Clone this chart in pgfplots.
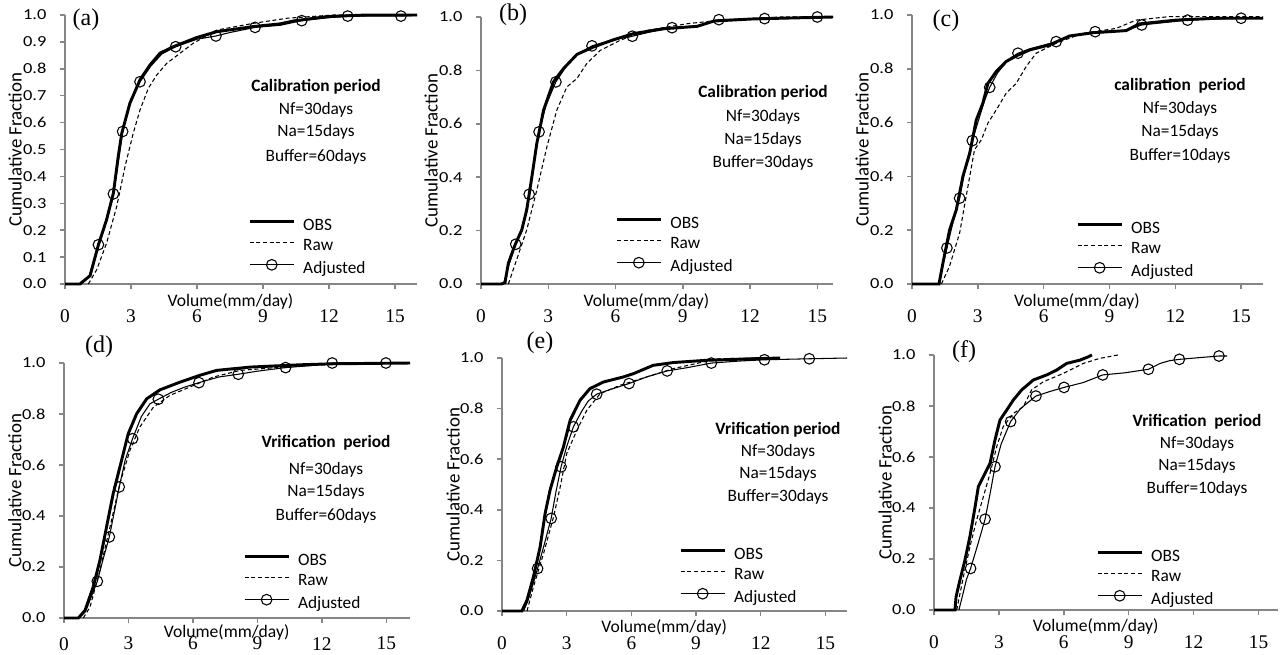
\documentclass[border=0pt]{standalone}
\usepackage{fontspec}
\usepackage{pgfplots}
\pgfplotsset{compat=1.18}
\setmainfont{Carlito}
\newfontfamily\serifnum{Liberation Serif}
\newfontfamily\tickfnt{Carlito}[FakeStretch=1.2]
\newcommand\lab{\fontsize{13}{15}\selectfont}
\newcommand\ylab{\fontsize{14.2}{16}\selectfont}
\newcommand\xlab{\fontsize{13.2}{15}\selectfont}
\newcommand\ytf{\tickfnt\fontsize{11.5}{13}\selectfont}
\newcommand\xtf{\serifnum\fontsize{14.5}{16}\selectfont}
\newcommand\pl{\serifnum\fontsize{18}{20}\selectfont}
\definecolor{axgray}{RGB}{134,134,134}

\pgfplotsset{
  cdf/.style={
    scale only axis, clip=false,
    axis x line=bottom, axis y line=left,
    axis line style={-, draw=axgray, line width=1.1pt},
    tick style={draw=axgray, line width=1.1pt},
    tick align=outside, major tick length=3.75pt,
    xmin=0, xmax=16, ymin=0, ymax=1,
    xtick={0,3,6,9,12,15},
    /pgf/number format/assume math mode=true,
    xticklabel style={font=\xtf, anchor=center, inner sep=0pt, yshift=-20.5pt},
    yticklabel style={font=\ytf, anchor=east, inner sep=0pt, xshift=-10pt,
      /pgf/number format/.cd, fixed, fixed zerofill, precision=1},
    xlabel={Volume(mm/day)}, ylabel={Cumulative Fraction},
    xlabel style={at={(axis description cs:0.47,-0.065)}, anchor=center, font=\xlab},
    ylabel style={at={(axis description cs:-0.142,0.5)}, anchor=center, font=\ylab},
    legend style={draw=none, fill=none, inner sep=0pt, font=\lab, anchor=west,
      nodes={inner sep=0pt, text height=9pt, text depth=3pt},
      row sep=3.4pt, /tikz/every odd column/.append style={column sep=6pt}},
    legend cell align=left,
    legend image code/.code={\draw[mark repeat=2,mark phase=2,##1]
      plot coordinates {(0pt,3.5pt)(16.5pt,3.5pt)(33pt,3.5pt)};},
  },
  obs/.style={black, line width=2.2pt, mark=none},
  raw/.style={black, line width=0.8pt, dash pattern=on 3pt off 2pt, mark=none},
  adj/.style={black, line width=0.8pt, mark=none},
  adjm/.style={black, only marks, mark=o, mark size=4pt, mark options={line width=0.8pt}},
}

\begin{document}
\begin{tikzpicture}
\useasboundingbox (0,0) rectangle (961.5pt,-490.5pt);

% (a)
\begin{axis}[cdf, at={(48.75pt,-213pt)}, anchor=south west, width=264pt, height=201.75pt,
  ytick={0,0.1,...,1.0}, legend style={at={(axis description cs:0.52,0.134)}}]
\addplot[obs, forget plot] coordinates {(0,0)(0.68,0)(1.14,0.031)(1.52,0.146)(1.89,0.239)(2.2,0.338)(2.42,0.474)(2.58,0.56)(2.95,0.672)(3.41,0.759)(3.86,0.814)(4.32,0.858)(4.92,0.882)(5.98,0.916)(6.9,0.938)(8.56,0.957)(9.77,0.967)(10.4,0.978)(11.9,0.994)(13.7,1.0)(16,1.0)};
\addplot[raw, forget plot] coordinates {(1.06,0)(1.44,0.053)(1.89,0.152)(2.35,0.288)(2.73,0.437)(3.1,0.56)(3.41,0.647)(3.79,0.728)(4.17,0.777)(4.62,0.82)(5.23,0.858)(5.83,0.895)(6.9,0.944)(8.56,0.969)(10.1,0.988)(12.2,1.0)(16,1.0)};
\addplot[adj, forget plot] coordinates {(0.7,0)(1.1,0.03)(1.52,0.146)(1.9,0.24)(2.2,0.335)(2.45,0.47)(2.62,0.567)(2.95,0.67)(3.41,0.752)(3.9,0.81)(4.4,0.855)(5.03,0.882)(6.0,0.91)(6.86,0.922)(7.5,0.935)(8.64,0.954)(9.8,0.962)(10.76,0.979)(12.0,0.99)(12.85,0.996)(15.27,0.996)(16,0.998)};
\addplot[adjm, forget plot] coordinates {(1.52,0.146)(2.2,0.335)(2.62,0.567)(3.41,0.752)(5.03,0.882)(6.86,0.922)(8.64,0.954)(10.76,0.979)(12.85,0.996)(15.27,0.996)};
\addlegendimage{obs}\addlegendimage{raw}\addlegendimage{adj, mark=o, mark size=4pt}
\legend{OBS,Raw,Adjusted}
\end{axis}

% (b)
\begin{axis}[cdf, at={(360.75pt,-213pt)}, anchor=south west, width=264pt, height=200.25pt,
  xmax=15.7, ytick={0,0.2,...,1.0}, legend style={at={(axis description cs:0.381,0.143)}}]
\addplot[obs, forget plot] coordinates {(0,0)(0.9,0)(1.07,0.005)(1.22,0.078)(1.52,0.147)(1.82,0.203)(2.04,0.278)(2.27,0.402)(2.49,0.527)(2.79,0.651)(3.23,0.757)(3.68,0.807)(4.28,0.86)(5.02,0.888)(5.92,0.915)(6.81,0.938)(8.15,0.956)(9.64,0.965)(10.39,0.985)(12.18,0.993)(13.67,0.996)(15.7,1.0)};
\addplot[raw, forget plot] coordinates {(1.22,0)(1.59,0.091)(2.04,0.203)(2.49,0.352)(2.94,0.514)(3.38,0.651)(3.83,0.738)(4.28,0.77)(4.72,0.826)(5.32,0.875)(6.21,0.913)(7.41,0.95)(9.2,0.975)(10.69,0.988)(13.37,1.0)(15.7,1.0)};
\addplot[adj, forget plot] coordinates {(1.0,0)(1.2,0.06)(1.55,0.149)(1.85,0.21)(2.15,0.336)(2.35,0.45)(2.59,0.57)(2.9,0.67)(3.34,0.757)(3.8,0.815)(4.3,0.86)(4.95,0.892)(5.9,0.915)(6.75,0.928)(7.6,0.945)(8.52,0.96)(9.7,0.968)(10.61,0.99)(12.65,0.994)(15.0,1.0)(15.7,1.0)};
\addplot[adjm, forget plot] coordinates {(1.55,0.149)(2.15,0.336)(2.59,0.57)(3.34,0.757)(4.95,0.892)(6.75,0.928)(8.52,0.96)(10.61,0.99)(12.65,0.994)(15.0,1.0)};
\addlegendimage{obs}\addlegendimage{raw}\addlegendimage{adj, mark=o, mark size=4pt}
\legend{OBS,Raw,Adjusted}
\end{axis}

% (c)
\begin{axis}[cdf, at={(684pt,-213pt)}, anchor=south west, width=263.25pt, height=201.75pt,
  ytick={0,0.2,...,1.0}, legend style={at={(axis description cs:0.467,0.123)}}]
\addplot[obs, forget plot] coordinates {(0,0)(1.23,0)(1.41,0.078)(1.71,0.2)(2.02,0.276)(2.32,0.4)(2.63,0.486)(2.93,0.61)(3.23,0.672)(3.46,0.746)(3.84,0.79)(4.29,0.827)(4.75,0.848)(5.36,0.87)(6.27,0.889)(7.18,0.922)(8.24,0.934)(9.76,0.942)(10.36,0.967)(12.03,0.981)(13.85,0.988)(16,0.988)};
\addplot[raw, forget plot] coordinates {(1.34,0)(1.71,0.066)(2.17,0.189)(2.55,0.363)(2.85,0.499)(3.16,0.536)(3.46,0.598)(3.84,0.647)(4.29,0.709)(4.75,0.746)(5.2,0.808)(5.66,0.858)(6.57,0.895)(7.78,0.932)(9.3,0.95)(10.21,0.981)(11.73,0.994)(16,0.994)};
\addplot[adj, forget plot] coordinates {(1.23,0)(1.4,0.07)(1.59,0.134)(1.9,0.24)(2.17,0.319)(2.45,0.44)(2.75,0.533)(3.0,0.6)(3.3,0.68)(3.54,0.731)(3.9,0.785)(4.4,0.835)(4.83,0.858)(5.4,0.875)(6.0,0.888)(6.57,0.901)(7.2,0.922)(8.35,0.938)(9.8,0.943)(10.47,0.963)(12.56,0.981)(15.0,0.988)(16,0.988)};
\addplot[adjm, forget plot] coordinates {(1.59,0.134)(2.17,0.319)(2.75,0.533)(3.54,0.731)(4.83,0.858)(6.57,0.901)(8.35,0.938)(10.47,0.963)(12.56,0.981)(15.0,0.988)};
\addlegendimage{obs}\addlegendimage{raw}\addlegendimage{adj, mark=o, mark size=4pt}
\legend{OBS,Raw,Adjusted}
\end{axis}

% (d)
\begin{axis}[cdf, at={(48pt,-463.5pt)}, anchor=south west, width=259.5pt, height=191.25pt,
  xmax=16.1, ytick={0,0.2,...,1.0}, xticklabel style={yshift=5pt},
  xlabel style={yshift=1.5pt},
  legend style={at={(axis description cs:0.517,0.138)}}]
\addplot[obs, forget plot] coordinates {(0,0)(0.67,0)(0.98,0.03)(1.36,0.122)(1.67,0.226)(1.98,0.357)(2.29,0.488)(2.6,0.592)(2.99,0.723)(3.38,0.801)(3.85,0.86)(4.47,0.895)(5.4,0.925)(6.33,0.952)(7.1,0.971)(8.65,0.984)(10.98,0.993)(12.53,0.997)(16.1,1.0)};
\addplot[raw, forget plot] coordinates {(0.9,0)(1.21,0.043)(1.67,0.187)(2.14,0.357)(2.6,0.527)(3.07,0.658)(3.53,0.749)(4.16,0.827)(4.93,0.873)(5.86,0.906)(6.95,0.945)(8.19,0.971)(10.2,0.984)(12.53,0.995)(16.1,1.0)};
\addplot[adj, forget plot] coordinates {(0.7,0)(1.0,0.025)(1.3,0.09)(1.55,0.144)(1.85,0.24)(2.11,0.318)(2.35,0.42)(2.57,0.514)(2.85,0.62)(3.19,0.703)(3.6,0.79)(4.0,0.84)(4.39,0.858)(5.0,0.885)(5.6,0.905)(6.28,0.923)(7.2,0.945)(8.11,0.956)(9.0,0.968)(10.31,0.982)(11.5,0.99)(12.48,1.0)(14.98,1.0)(16.1,1.0)};
\addplot[adjm, forget plot] coordinates {(1.55,0.144)(2.11,0.318)(2.57,0.514)(3.19,0.703)(4.39,0.858)(6.28,0.923)(8.11,0.956)(10.31,0.982)(12.48,1.0)(14.98,1.0)};
\addlegendimage{obs}\addlegendimage{raw}\addlegendimage{adj, mark=o, mark size=4pt}
\legend{OBS,Raw,Adjusted}
\end{axis}

% (e)
\begin{axis}[cdf, at={(376.5pt,-458.25pt)}, anchor=south west, width=258.75pt, height=189.75pt,
  ytick={0,0.2,...,1.0}, legend style={at={(axis description cs:0.513,0.135)}}]
\addplot[obs, forget plot] coordinates {(0,0)(0.92,0)(1.16,0.043)(1.46,0.136)(1.77,0.254)(2.0,0.386)(2.23,0.478)(2.54,0.57)(2.85,0.649)(3.16,0.754)(3.62,0.833)(4.08,0.879)(4.7,0.905)(5.62,0.925)(6.09,0.938)(7.01,0.971)(7.94,0.982)(9.48,0.991)(11.63,0.997)(12.9,1.0)};
\addplot[raw, forget plot] coordinates {(1.16,0)(1.46,0.096)(1.93,0.228)(2.39,0.372)(2.7,0.491)(3.0,0.622)(3.47,0.714)(3.93,0.793)(4.55,0.859)(5.47,0.892)(6.7,0.925)(7.94,0.958)(9.32,0.984)(10.09,0.997)(11.63,1.0)(12.2,1.0)};
\addplot[adj, forget plot] coordinates {(1.0,0)(1.2,0.04)(1.45,0.11)(1.65,0.168)(1.95,0.26)(2.28,0.366)(2.5,0.47)(2.74,0.57)(3.0,0.65)(3.31,0.728)(3.7,0.79)(4.0,0.83)(4.39,0.857)(5.0,0.875)(5.89,0.899)(6.7,0.925)(7.66,0.949)(8.6,0.962)(9.71,0.98)(11.0,0.988)(12.17,0.993)(14.25,0.997)(16,1.0)};
\addplot[adjm, forget plot] coordinates {(1.65,0.168)(2.28,0.366)(2.74,0.57)(3.31,0.728)(4.39,0.857)(5.89,0.899)(7.66,0.949)(9.71,0.98)(12.17,0.993)(14.25,0.997)};
\addlegendimage{obs}\addlegendimage{raw}\addlegendimage{adj, mark=o, mark size=4pt}
\legend{OBS,Raw,Adjusted}
\end{axis}

% (f)
\begin{axis}[cdf, at={(700.5pt,-457.5pt)}, anchor=south west, width=258pt, height=191.25pt,
  xmax=15.9, ytick={0,0.2,...,1.0}, legend style={at={(axis description cs:0.471,0.122)}}]
\addplot[obs, forget plot] coordinates {(0,0)(0.97,0)(1.02,0.052)(1.2,0.118)(1.43,0.196)(1.66,0.288)(1.9,0.405)(2.05,0.484)(2.28,0.523)(2.59,0.575)(2.82,0.667)(3.05,0.745)(3.36,0.784)(3.67,0.824)(4.05,0.863)(4.59,0.902)(5.21,0.922)(5.67,0.941)(6.13,0.967)(6.75,0.98)(7.13,0.993)(7.3,1.0)};
\addplot[raw, forget plot] coordinates {(1.05,0)(1.36,0.131)(1.66,0.248)(1.97,0.353)(2.28,0.444)(2.59,0.536)(2.9,0.641)(3.2,0.719)(3.67,0.771)(4.13,0.797)(4.51,0.863)(5.05,0.895)(5.98,0.928)(6.9,0.967)(7.67,0.987)(8.5,1.0)};
\addplot[adj, forget plot] coordinates {(1.15,0)(1.3,0.05)(1.5,0.12)(1.69,0.163)(2.0,0.25)(2.36,0.356)(2.6,0.46)(2.82,0.562)(3.1,0.65)(3.54,0.739)(4.0,0.79)(4.71,0.839)(5.36,0.857)(6.01,0.873)(6.9,0.892)(7.8,0.922)(8.8,0.93)(9.91,0.944)(10.45,0.967)(10.9,0.978)(11.34,0.983)(12.3,0.99)(13.17,0.996)(13.55,0.996)};
\addplot[adjm, forget plot] coordinates {(1.69,0.163)(2.36,0.356)(2.82,0.562)(3.54,0.739)(4.71,0.839)(6.01,0.873)(7.8,0.922)(9.91,0.944)(11.34,0.983)(13.17,0.996)};
\addlegendimage{obs}\addlegendimage{raw}\addlegendimage{adj, mark=o, mark size=4pt}
\legend{OBS,Raw,Adjusted}
\end{axis}

% panel letters and notes, pixel positions
\begin{scope}[x=0.75pt, y=-0.75pt, every node/.style={inner sep=0pt, text height=0.7em, text depth=0.2em}]
\node[font=\pl] at (86,22) {(a)};
\node[font=\pl] at (513,17) {(b)};
\node[font=\pl] at (946,23) {(c)};
\node[font=\pl] at (99,349) {(d)};
\node[font=\pl] at (540,345) {(e)};
\node[font=\pl] at (964,354) {(f)};
\begin{scope}[every node/.append style={font=\lab}]
\node at (316,88) {\bfseries Calibration period};
\node at (316,111) {Nf=30days};
\node at (316,133) {Na=15days};
\node at (316,158) {Buffer=60days};
\node at (763,94) {\bfseries Calibration period};
\node at (763,118) {Nf=30days};
\node at (763,141) {Na=15days};
\node at (763,164) {Buffer=30days};
\node at (1180,87) {\bfseries calibration\ \ period};
\node at (1180,110) {Nf=30days};
\node at (1180,133) {Na=15days};
\node at (1180,157) {Buffer=10days};
\node at (326,444) {\bfseries Vrification\ \ period};
\node at (326,471) {Nf=30days};
\node at (326,493) {Na=15days};
\node at (326,517) {Buffer=60days};
\node at (778,431) {\bfseries Vrification period};
\node at (778,453) {Nf=30days};
\node at (778,475) {Na=15days};
\node at (778,498) {Buffer=30days};
\node at (1197,423) {\bfseries Vrification\ \ period};
\node at (1197,445) {Nf=30days};
\node at (1197,467) {Na=15days};
\node at (1197,490) {Buffer=10days};
\end{scope}
\end{scope}
\end{tikzpicture}
\end{document}
